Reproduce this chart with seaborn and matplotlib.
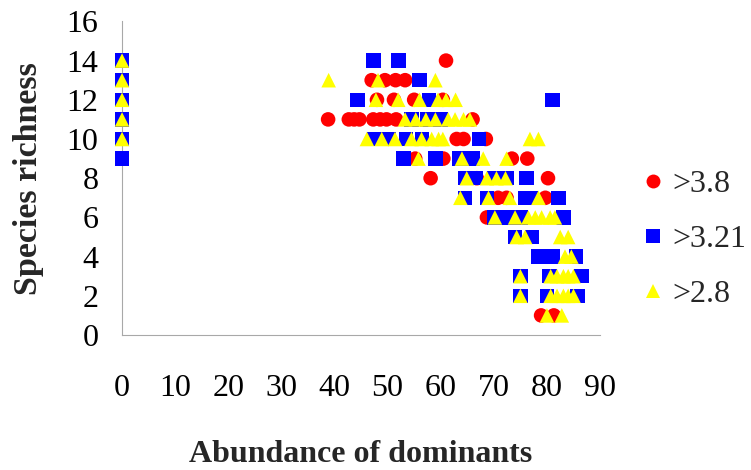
import matplotlib
matplotlib.use("Agg")
import matplotlib.pyplot as plt
from matplotlib.lines import Line2D
import seaborn as sns
import pandas as pd

# ---- data ----
red_x = [61,
         47, 49.5, 51.5, 53.3,
         48, 51.2, 55, 60.4,
         38.8, 42.7, 43.7, 44.7, 47.3, 48.6, 49.8, 51.6, 66,
         63, 64.3, 68.5,
         55.2, 60.5, 73.4, 76.3,
         58.1, 66.8, 80.2,
         70.8, 72.4, 79.7,
         68.7,
         78.9, 81.3]
red_y = [14,
         13, 13, 13, 13,
         12, 12, 12, 12,
         11, 11, 11, 11, 11, 11, 11, 11, 11,
         10, 10, 10,
         9, 9, 9, 9,
         8, 8, 8,
         7, 7, 7,
         6,
         1, 1]

blue_x = [0, 0, 0, 0, 0, 0,
          47.3, 52,
          56,
          44.3, 57.8, 81.1,
          54.5, 57.5, 60,
          47.5, 50.3, 53.5, 56.5, 67.2,
          53, 59, 63.5, 66,
          64.6, 66.5, 70, 72.5, 76.2,
          64.6, 68.7, 76, 77, 82.2,
          70, 72.3, 75, 83.1,
          74, 77.2,
          78.3, 80, 81, 85.5,
          75, 80.5, 86.5,
          75, 80, 85.8]
blue_y = [9, 10, 11, 12, 13, 14,
          14, 14,
          13,
          12, 12, 12,
          11, 11, 11,
          10, 10, 10, 10, 10,
          9, 9, 9, 9,
          8, 8, 8, 8, 8,
          7, 7, 7, 7, 7,
          6, 6, 6, 6,
          5, 5,
          4, 4, 4, 4,
          3, 3, 3,
          2, 2, 2]

yellow_x = [0, 0, 0, 0, 0,
            38.9, 48.2, 59,
            47.8, 52, 56, 59.5, 61, 62.8,
            53.3, 55.3, 57.2, 59, 61.4, 62.7, 64.3, 65.5,
            46.1, 48.9, 51.4, 54.5, 56.4, 58.3, 59.6, 60.4, 76.8, 78.4,
            55.8, 64, 68, 72.4,
            64.9, 68.7, 70.5, 72.2,
            63.7, 69, 73, 78.4,
            70.2, 74, 76.5, 77.8, 79, 80.6, 81.5,
            74.3, 75.9, 82.5, 84,
            83.4, 84.6,
            75, 80.7, 81.9, 83.1, 84, 85,
            75, 80.7, 81.9, 83.1, 84, 85,
            80, 82.8]
yellow_y = [10, 11, 12, 13, 14,
            13, 13, 13,
            12, 12, 12, 12, 12, 12,
            11, 11, 11, 11, 11, 11, 11, 11,
            10, 10, 10, 10, 10, 10, 10, 10, 10, 10,
            9, 9, 9, 9,
            8, 8, 8, 8,
            7, 7, 7, 7,
            6, 6, 6, 6, 6, 6, 6,
            5, 5, 5, 5,
            4, 4,
            3, 3, 3, 3, 3, 3,
            2, 2, 2, 2, 2, 2,
            1, 1]

labels = [">3.8", ">3.21", ">2.8"]
colors = ["#FF0000", "#0000FF", "#FFFF00"]
markers = ["o", "s", "^"]
x_ticks = [0, 10, 20, 30, 40, 50, 60, 70, 80, 90]
y_ticks = [0, 2, 4, 6, 8, 10, 12, 14, 16]

df = pd.concat([
    pd.DataFrame({"x": red_x, "y": red_y, "g": labels[0]}),
    pd.DataFrame({"x": blue_x, "y": blue_y, "g": labels[1]}),
    pd.DataFrame({"x": yellow_x, "y": yellow_y, "g": labels[2]}),
], ignore_index=True)

sns.set_style("white")
plt.rcParams["font.family"] = ["Liberation Serif", "DejaVu Serif"]

fig = plt.figure(figsize=(7.51, 4.70), dpi=100)
ax = fig.add_axes([0.1625, 0.2872, 0.6365, 0.6673])

sns.scatterplot(data=df, x="x", y="y", hue="g", style="g",
                hue_order=labels, style_order=labels,
                palette=dict(zip(labels, colors)),
                markers=dict(zip(labels, markers)),
                s=110, linewidth=0, alpha=1, clip_on=False,
                legend=False, ax=ax, zorder=3)

ax.set_xlim(0, 90)
ax.set_ylim(0, 16)
ax.set_xticks(x_ticks)
ax.set_yticks(y_ticks)
ax.tick_params(axis="both", direction="out", length=7, width=0.8,
               color="#a8a8a8", labelsize=23, labelcolor="black")
ax.tick_params(axis="x", pad=21)
ax.tick_params(axis="y", pad=10)
for side in ["top", "right"]:
    ax.spines[side].set_visible(False)
for side in ["left", "bottom"]:
    ax.spines[side].set_color("#a8a8a8")
    ax.spines[side].set_linewidth(0.8)

ax.set_xlabel("Abundance of dominants", fontsize=23, fontweight="bold", labelpad=27)
ax.set_ylabel("Species richness", fontsize=24.5, fontweight="bold", labelpad=16)

handles = [Line2D([], [], linestyle="none", marker=m, color=c, markersize=10,
                  markeredgewidth=0) for m, c in zip(markers, colors)]
fig.legend(handles, labels, loc="center left", bbox_to_anchor=(0.8355, 0.49),
           frameon=False, fontsize=23, handlelength=0.8, handletextpad=0.2,
           labelspacing=0.8, borderaxespad=0)

fig.savefig("out.png", dpi=100)
